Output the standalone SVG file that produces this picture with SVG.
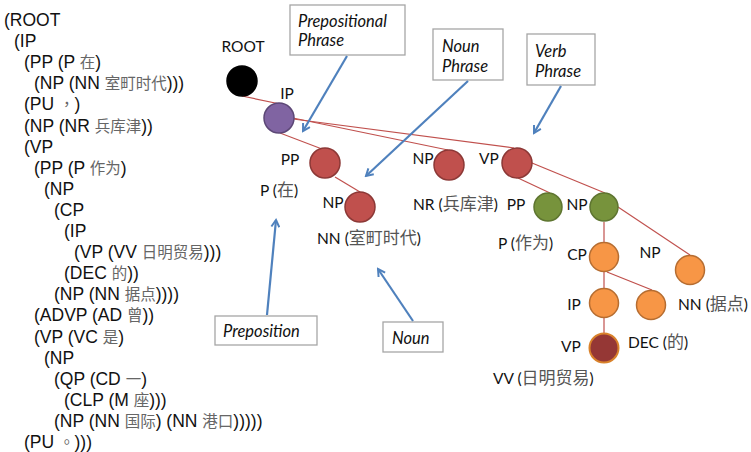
<svg xmlns="http://www.w3.org/2000/svg" width="751" height="452" viewBox="0 0 751 452">
  <style>
    .bracket { font-family: "Liberation Sans", Arial, "Noto Sans CJK SC", sans-serif; font-size: 17.5px; fill: #111; }
    .bracket .zh { font-family: "Noto Sans CJK SC", sans-serif; font-size: 15.5px; fill: #666; }
    .bracket .punct { font-family: "Noto Sans CJK TC", sans-serif; font-size: 15.5px; fill: #666; }
    .lbl { font-family: Lato, "Open Sans", "Noto Sans CJK SC", sans-serif; font-size: 15.5px; fill: #111; }
    .lbl .zh { font-family: "Noto Sans CJK SC", sans-serif; font-size: 17px; fill: #555; }
    .edge { stroke: #C0504D; stroke-width: 1.2; fill: none; }
    .red { fill: #C0504D; stroke: #8C3836; stroke-width: 1.5; }
    .green { fill: #77933C; stroke: #5E7530; stroke-width: 1.5; }
    .orange { fill: #F79646; stroke: #B66D31; stroke-width: 1.5; }
    .purple { fill: #8064A2; stroke: #5C4776; stroke-width: 1.5; }
    .black { fill: #000; stroke: #000; stroke-width: 1.5; }
    .dark { fill: #953735; stroke: #D9822B; stroke-width: 2; }
    .box { fill: #fff; stroke: #A6A6A6; stroke-width: 1.3; }
    .note { font-family: Lato, "Open Sans", sans-serif; font-style: italic; font-size: 16.5px; fill: #111; }
    .pointer { stroke: #4F81BD; stroke-width: 2.2; fill: none; marker-end: url(#head); }
  </style>
  <defs>
    <marker id="head" viewBox="0 0 10 10" refX="8" refY="5" markerWidth="4.5" markerHeight="4.5" orient="auto" markerUnits="strokeWidth">
      <path d="M1,1 L8,5 L1,9" fill="none" stroke="#4F81BD" stroke-width="2"/>
    </marker>
  </defs>

  <!-- bracketed parse -->
  <g id="bracketed-parse" class="bracket">
    <text x="4" y="26">(ROOT</text>
    <text x="14" y="47.1">(IP</text>
    <text x="24" y="68.2">(PP (P <tspan class="zh">在</tspan>)</text>
    <text x="34" y="89.3">(NP (NN <tspan class="zh">室町时代</tspan>)))</text>
    <text x="24" y="110.4">(PU <tspan class="punct">，</tspan>)</text>
    <text x="24" y="131.5">(NP (NR <tspan class="zh">兵库津</tspan>))</text>
    <text x="24" y="152.6">(VP</text>
    <text x="34" y="173.7">(PP (P <tspan class="zh">作为</tspan>)</text>
    <text x="44" y="194.8">(NP</text>
    <text x="54" y="215.9">(CP</text>
    <text x="64" y="237">(IP</text>
    <text x="74" y="258.1">(VP (VV <tspan class="zh">日明贸易</tspan>)))</text>
    <text x="64" y="279.2">(DEC <tspan class="zh">的</tspan>))</text>
    <text x="54" y="300.3">(NP (NN <tspan class="zh">据点</tspan>))))</text>
    <text x="34" y="321.4">(ADVP (AD <tspan class="zh">曾</tspan>))</text>
    <text x="34" y="342.5">(VP (VC <tspan class="zh">是</tspan>)</text>
    <text x="44" y="363.6">(NP</text>
    <text x="54" y="384.7">(QP (CD <tspan class="zh">一</tspan>)</text>
    <text x="64" y="405.8">(CLP (M <tspan class="zh">座</tspan>)))</text>
    <text x="54" y="426.9">(NP (NN <tspan class="zh">国际</tspan>) (NN <tspan class="zh">港口</tspan>)))))</text>
    <text x="24" y="448">(PU <tspan class="punct">。</tspan>)))</text>
  </g>

  <!-- tree edges -->
  <g id="edges">
    <line class="edge" x1="242" y1="96" x2="280" y2="104"/>
    <line class="edge" x1="293" y1="118" x2="448" y2="150"/>
    <line class="edge" x1="293" y1="119" x2="514" y2="148"/>
    <line class="edge" x1="280" y1="133" x2="322" y2="149"/>
    <line class="edge" x1="335" y1="177" x2="360" y2="192"/>
    <line class="edge" x1="518" y1="178" x2="550" y2="193"/>
    <line class="edge" x1="532" y1="163" x2="605" y2="193"/>
    <line class="edge" x1="618" y1="207" x2="690" y2="255"/>
    <line class="edge" x1="604" y1="222" x2="604" y2="243"/>
    <line class="edge" x1="604" y1="272" x2="604" y2="288"/>
    <line class="edge" x1="607" y1="272" x2="652" y2="290"/>
    <line class="edge" x1="604" y1="318" x2="604" y2="333"/>
  </g>

  <!-- tree nodes -->
  <g id="node-root">
    <circle class="black" cx="242" cy="81" r="15"/>
    <text class="lbl" x="243" y="52" text-anchor="middle">ROOT</text>
  </g>
  <g id="node-ip">
    <circle class="purple" cx="279" cy="118" r="15"/>
    <text class="lbl" x="287" y="99" text-anchor="middle">IP</text>
  </g>
  <g id="node-pp">
    <circle class="red" cx="325" cy="163" r="15"/>
    <text class="lbl" x="290" y="165" text-anchor="middle">PP</text>
    <text class="lbl" x="260" y="196">P (<tspan class="zh">在</tspan>)</text>
  </g>
  <g id="node-np-muromachi">
    <circle class="red" cx="360" cy="207" r="15"/>
    <text class="lbl" x="333" y="208" text-anchor="middle">NP</text>
    <text class="lbl" x="317" y="244">NN (<tspan class="zh">室町时代</tspan>)</text>
  </g>
  <g id="node-np-hyogo">
    <circle class="red" cx="449" cy="165" r="15"/>
    <text class="lbl" x="423" y="164" text-anchor="middle">NP</text>
    <text class="lbl" x="413" y="210">NR (<tspan class="zh">兵库津</tspan>)</text>
  </g>
  <g id="node-vp">
    <circle class="red" cx="517" cy="163" r="15"/>
    <text class="lbl" x="489" y="164" text-anchor="middle">VP</text>
  </g>
  <g id="node-pp-sakui">
    <circle class="green" cx="548" cy="207" r="14"/>
    <text class="lbl" x="516" y="210" text-anchor="middle">PP</text>
    <text class="lbl" x="498" y="249">P (<tspan class="zh">作为</tspan>)</text>
  </g>
  <g id="node-np-green">
    <circle class="green" cx="604" cy="207" r="14"/>
    <text class="lbl" x="577" y="210" text-anchor="middle">NP</text>
  </g>
  <g id="node-cp">
    <circle class="orange" cx="604" cy="257" r="14.5"/>
    <text class="lbl" x="577" y="260" text-anchor="middle">CP</text>
  </g>
  <g id="node-np-kyoten">
    <circle class="orange" cx="690" cy="270" r="14.5"/>
    <text class="lbl" x="650" y="258" text-anchor="middle">NP</text>
    <text class="lbl" x="678" y="310">NN (<tspan class="zh">据点</tspan>)</text>
  </g>
  <g id="node-ip-inner">
    <circle class="orange" cx="604" cy="303" r="14.5"/>
    <text class="lbl" x="574" y="310" text-anchor="middle">IP</text>
  </g>
  <g id="node-dec">
    <circle class="orange" cx="651" cy="305" r="14.5"/>
    <text class="lbl" x="628" y="348">DEC (<tspan class="zh">的</tspan>)</text>
  </g>
  <g id="node-vp-inner">
    <circle class="dark" cx="604" cy="348" r="14.5"/>
    <text class="lbl" x="571" y="352" text-anchor="middle">VP</text>
    <text class="lbl" x="493" y="384">VV (<tspan class="zh">日明贸易</tspan>)</text>
  </g>

  <!-- callouts -->
  <g id="callout-prepositional-phrase">
    <rect class="box" x="290" y="5" width="115" height="50"/>
    <text class="note" x="298" y="27">Prepositional</text>
    <text class="note" x="298" y="46">Phrase</text>
    <line class="pointer" x1="347" y1="56" x2="303" y2="131"/>
  </g>
  <g id="callout-noun-phrase">
    <rect class="box" x="433" y="29" width="70" height="51"/>
    <text class="note" x="442" y="52">Noun</text>
    <text class="note" x="442" y="72">Phrase</text>
    <line class="pointer" x1="468" y1="81" x2="366" y2="176"/>
  </g>
  <g id="callout-verb-phrase">
    <rect class="box" x="527" y="34" width="68" height="51"/>
    <text class="note" x="535" y="57">Verb</text>
    <text class="note" x="535" y="77">Phrase</text>
    <line class="pointer" x1="561" y1="86" x2="534" y2="133"/>
  </g>
  <g id="callout-preposition">
    <rect class="box" x="215" y="316" width="102" height="29"/>
    <text class="note" x="223" y="337">Preposition</text>
    <line class="pointer" x1="267" y1="315" x2="276" y2="220"/>
  </g>
  <g id="callout-noun">
    <rect class="box" x="383" y="322" width="60" height="30"/>
    <text class="note" x="392" y="344">Noun</text>
    <line class="pointer" x1="413" y1="321" x2="378" y2="269"/>
  </g>
</svg>
